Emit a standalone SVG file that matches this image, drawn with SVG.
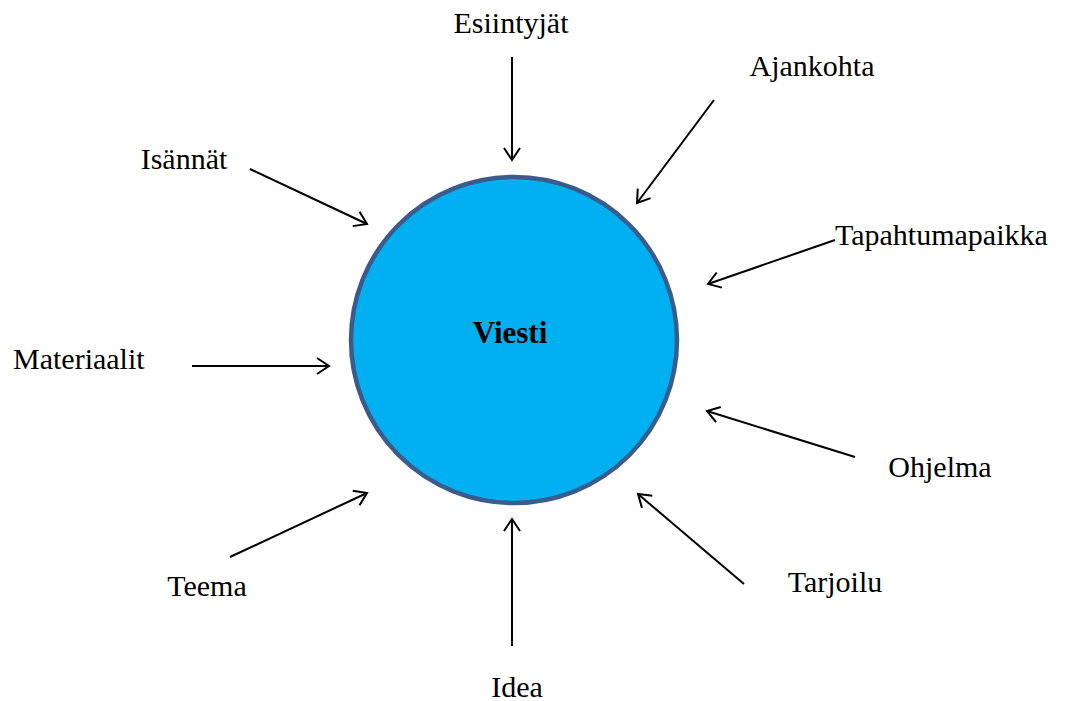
<svg xmlns="http://www.w3.org/2000/svg" width="1071" height="701" viewBox="0 0 1071 701">
<style>
.lbl{font-family:"Liberation Serif","Times New Roman",serif;font-size:30px;fill:#000;text-anchor:middle}
.c{stroke:#000;stroke-width:2;fill:none;marker-end:url(#ah)}
</style>
<defs>
<marker id="ah" markerUnits="userSpaceOnUse" markerWidth="30" markerHeight="30" refX="15" refY="15" orient="auto" viewBox="0 0 30 30">
<path d="M3,7 L15,15 L3,23" fill="none" stroke="#000" stroke-width="2"/>
</marker>
</defs>
<rect width="1071" height="701" fill="#fff"/>
<g id="viesti">
<circle cx="514" cy="340" r="163" fill="#00b0f0" stroke="#3b5b8c" stroke-width="4.5"/>
<text x="510" y="343" class="lbl" style="font-weight:bold;font-size:31px">Viesti</text>
</g>
<g id="esiintyjat"><text x="511" y="33" class="lbl">Esiintyjät</text></g>
<g id="ajankohta"><text x="812" y="76" class="lbl">Ajankohta</text></g>
<g id="isannat"><text x="184" y="169" class="lbl">Isännät</text></g>
<g id="tapahtumapaikka"><text x="835" y="245" class="lbl" style="text-anchor:start">Tapahtumapaikka</text></g>
<g id="materiaalit"><text x="13" y="369" class="lbl" style="text-anchor:start">Materiaalit</text></g>
<g id="ohjelma"><text x="940" y="477" class="lbl">Ohjelma</text></g>
<g id="tarjoilu"><text x="835" y="592" class="lbl">Tarjoilu</text></g>
<g id="teema"><text x="207" y="596" class="lbl">Teema</text></g>
<g id="idea"><text x="517" y="697" class="lbl">Idea</text></g>
<g id="connectors">
<line class="c" x1="512" y1="57" x2="512" y2="160"/>
<line class="c" x1="714" y1="100" x2="637" y2="203"/>
<line class="c" x1="250" y1="169" x2="367" y2="224"/>
<line class="c" x1="835" y1="240" x2="708" y2="284"/>
<line class="c" x1="192" y1="366" x2="329" y2="366"/>
<line class="c" x1="855" y1="457" x2="707" y2="411"/>
<line class="c" x1="744" y1="584" x2="638" y2="494"/>
<line class="c" x1="230" y1="557" x2="367" y2="493"/>
<line class="c" x1="512" y1="646" x2="512" y2="519"/>
</g>
</svg>
